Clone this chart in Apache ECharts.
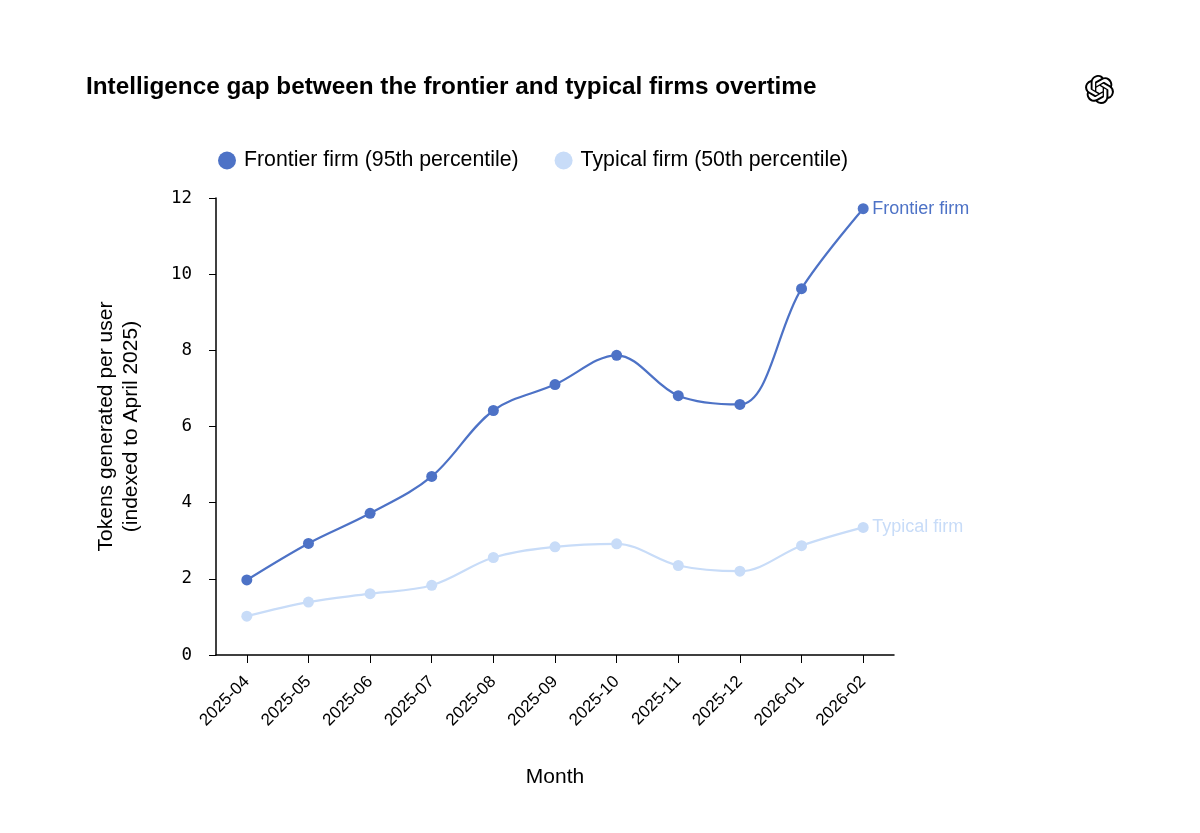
<!DOCTYPE html>
<html>
<head>
<meta charset="utf-8">
<script src="https://cdn.jsdelivr.net/npm/echarts@6/dist/echarts.min.js"></script>
<style>
html,body{margin:0;padding:0;background:#fff;}
#chart{width:1200px;height:833px;}
</style>
</head>
<body>
<div id="chart"></div>
<script>
const months = ['2025-04','2025-05','2025-06','2025-07','2025-08','2025-09','2025-10','2025-11','2025-12','2026-01','2026-02'];
const frontier = [1.97, 2.93, 3.72, 4.69, 6.42, 7.10, 7.87, 6.81, 6.58, 9.62, 11.72];
const typical = [1.02, 1.39, 1.61, 1.83, 2.56, 2.84, 2.92, 2.35, 2.20, 2.87, 3.35];
const yTicks = [0, 2, 4, 6, 8, 10, 12];

const frontierColor = '#4D72C6';
const typicalColor = '#C8DCF8';
const sans = '"Liberation Sans", Arial, Helvetica, sans-serif';
const mono = '"DejaVu Sans Mono", monospace';

const logoPath = 'M22.2819 9.8211a5.9847 5.9847 0 0 0-.5157-4.9108 6.0462 6.0462 0 0 0-6.5098-2.9A6.0651 6.0651 0 0 0 4.9807 4.1818a5.9847 5.9847 0 0 0-3.9977 2.9 6.0462 6.0462 0 0 0 .7427 7.0966 5.98 5.98 0 0 0 .511 4.9107 6.051 6.051 0 0 0 6.5146 2.9001A5.9847 5.9847 0 0 0 13.2599 24a6.0557 6.0557 0 0 0 5.7718-4.2058 5.9894 5.9894 0 0 0 3.9977-2.9001 6.0557 6.0557 0 0 0-.7475-7.0729zm-9.022 12.6081a4.4755 4.4755 0 0 1-2.8764-1.0408l.1419-.0804 4.7783-2.7582a.7948.7948 0 0 0 .3927-.6813v-6.7369l2.02 1.1686a.071.071 0 0 1 .038.052v5.5826a4.504 4.504 0 0 1-4.4945 4.4944zm-9.6607-4.1254a4.4708 4.4708 0 0 1-.5346-3.0137l.142.0852 4.783 2.7582a.7712.7712 0 0 0 .7806 0l5.8428-3.3685v2.3324a.0804.0804 0 0 1-.0332.0615L9.74 19.9502a4.4992 4.4992 0 0 1-6.1408-1.6464zM2.3408 7.8956a4.485 4.485 0 0 1 2.3655-1.9728V11.6a.7664.7664 0 0 0 .3879.6765l5.8144 3.3543-2.0201 1.1685a.0757.0757 0 0 1-.071 0l-4.8303-2.7865A4.504 4.504 0 0 1 2.3408 7.872zm16.5963 3.8558L13.1038 8.364 15.1192 7.2a.0757.0757 0 0 1 .071 0l4.8303 2.7913a4.4944 4.4944 0 0 1-.6765 8.1042v-5.6772a.79.79 0 0 0-.407-.667zm2.0107-3.0231l-.142-.0852-4.7735-2.7818a.7759.7759 0 0 0-.7854 0L9.409 9.2297V6.8974a.0662.0662 0 0 1 .0284-.0615l4.8303-2.7866a4.4992 4.4992 0 0 1 6.6802 4.66zM8.3065 12.863l-2.02-1.1638a.0804.0804 0 0 1-.038-.0567V6.0742a4.4992 4.4992 0 0 1 7.3757-3.4537l-.142.0805L8.704 5.459a.7948.7948 0 0 0-.3927.6813zm1.0976-2.3654l2.602-1.4998 2.6069 1.4998v2.9994l-2.5974 1.4997-2.6067-1.4997Z';
const logoSvg = 'data:image/svg+xml;charset=utf-8,' + encodeURIComponent(
  '<svg xmlns="http://www.w3.org/2000/svg" viewBox="0 0 24 24" width="96" height="96"><path fill="#000" d="' + logoPath + '"/></svg>'
);

const chart = echarts.init(document.getElementById('chart'), null, {renderer: 'canvas'});
chart.setOption({
  backgroundColor: '#ffffff',
  animation: false,
  title: {
    text: 'Intelligence gap between the frontier and typical firms overtime',
    left: 81, top: 70,
    textStyle: {fontFamily: sans, fontSize: 24.3, fontWeight: 'bold', color: '#000'}
  },
  graphic: [{
    type: 'image',
    left: 1085, top: 75,
    style: {image: logoSvg, width: 29, height: 29}
  }],
  legend: {
    top: 145, left: 213,
    icon: 'circle', itemWidth: 18, itemHeight: 18, itemGap: 36,
    textStyle: {fontFamily: sans, fontSize: 21.3, color: '#000', padding: [0, 0, 0, 3]},
    data: ['Frontier firm (95th percentile)', 'Typical firm (50th percentile)']
  },
  grid: {left: 216, right: 306, top: 198, bottom: 178},
  xAxis: {
    type: 'category',
    data: months,
    boundaryGap: true,
    name: 'Month', nameLocation: 'middle', nameGap: 112,
    nameTextStyle: {fontFamily: sans, fontSize: 21, color: '#000'},
    axisLine: {show: true, lineStyle: {color: '#000', width: 1.5}},
    axisTick: {show: true, alignWithLabel: true, length: 8, lineStyle: {color: '#000'}},
    axisLabel: {rotate: 45, margin: 24, fontFamily: sans, fontSize: 17, color: '#000'},
    splitLine: {show: false}
  },
  yAxis: {
    type: 'value', min: 0, max: 12, interval: 2,
    name: 'Tokens generated per user\n(indexed to April 2025)',
    nameLocation: 'middle', nameGap: 72, nameRotate: 90,
    nameTextStyle: {fontFamily: sans, fontSize: 21, color: '#000', lineHeight: 25, align: 'center'},
    axisLine: {show: true, lineStyle: {color: '#000', width: 1.5}},
    axisTick: {show: true, length: 7, lineStyle: {color: '#000'}},
    axisLabel: {
      margin: 24, fontFamily: mono, fontSize: 17.5, color: '#000',
      formatter: v => yTicks.includes(v) ? String(v) : ''
    },
    splitLine: {show: false}
  },
  series: [
    {
      name: 'Frontier firm (95th percentile)',
      type: 'line', data: frontier, smooth: 0.35,
      symbol: 'circle', symbolSize: 11,
      itemStyle: {color: frontierColor},
      lineStyle: {color: frontierColor, width: 2.2},
      endLabel: {show: true, formatter: 'Frontier firm', color: frontierColor, fontFamily: sans, fontSize: 18, distance: 9}
    },
    {
      name: 'Typical firm (50th percentile)',
      type: 'line', data: typical, smooth: 0.35,
      symbol: 'circle', symbolSize: 11,
      itemStyle: {color: typicalColor},
      lineStyle: {color: typicalColor, width: 2.2},
      endLabel: {show: true, formatter: 'Typical firm', color: typicalColor, fontFamily: sans, fontSize: 18, distance: 9}
    }
  ]
});
</script>
</body>
</html>
